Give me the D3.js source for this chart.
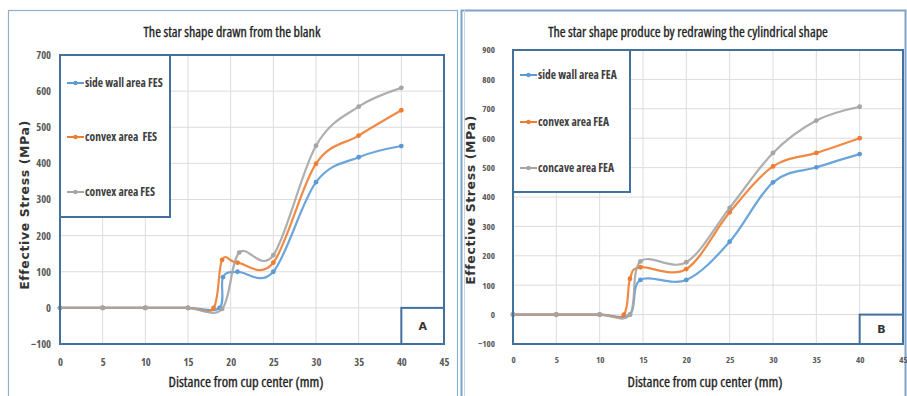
<!DOCTYPE html>
<html>
<head>
<meta charset="utf-8">
<script src="https://cdn.jsdelivr.net/npm/d3@7"></script>
<style>
  body { margin: 0; background: #fff; }
  svg { display: block; }
  text { white-space: pre; }
  .narrow { font-family: "Liberation Sans Narrow", "Open Sans", sans-serif; font-stretch: condensed; }
</style>
</head>
<body>
<svg id="chart" width="907" height="396"></svg>
<script>
// ---- data, panel A (star shape drawn from the blank)
const xTicks = [0, 5, 10, 15, 20, 25, 30, 35, 40, 45];
const aYTicks = [-100, 0, 100, 200, 300, 400, 500, 600, 700];
const aSideWall = [[0,0],[5,0],[10,0],[15,0],[18.7,0],[19.1,85],[20.8,100],[25,100],[30,348],[35,417],[40,448]];
const aConvex   = [[0,0],[5,0],[10,0],[15,0],[18,0],[19,133],[20.8,125],[25,125],[30,399],[35,477],[40,547]];
const aConvex2  = [[0,0],[5,0],[10,0],[15,0],[19,-3],[21,153],[25,146],[30,449],[35,557],[40,609]];
const aNames = ['side wall area FES', 'convex area  FES', 'convex area FES'];

// ---- data, panel B (star shape by redrawing the cylindrical shape)
const bYTicks = [-100, 0, 100, 200, 300, 400, 500, 600, 700, 800, 900];
const bSideWall = [[0,0],[5,0],[10,0],[13.5,0],[14.7,118],[20,118],[25,248],[30,450],[35,501],[40,546]];
const bConvex   = [[0,0],[5,0],[10,0],[12.8,0],[13.5,122],[14.7,161],[20,155],[25,348],[30,504],[35,550],[40,600]];
const bConcave  = [[0,0],[5,0],[10,0],[13.5,0],[14.7,181],[20,178],[25,363],[30,550],[35,660],[40,707]];
const bNames = ['side wall area FEA', 'convex area FEA', 'concave area FEA'];

const colors = ['#5b9bd5', '#ed7d31', '#a5a5a5'];
const frameColor = '#41719c';

const svg = d3.select('#chart');

// outer frames of the two figure panels
svg.append('rect').attr('x', 8.5).attr('y', 10.5).attr('width', 449).attr('height', 400)
  .attr('fill', 'none').attr('stroke', '#8fb0cf').attr('stroke-width', 1.2);
svg.append('rect').attr('x', 461.5).attr('y', 10.5).attr('width', 444).attr('height', 400)
  .attr('fill', 'none').attr('stroke', '#7fa3c6').attr('stroke-width', 2);
svg.append('line').attr('x1', 464.5).attr('x2', 464.5).attr('y1', 10).attr('y2', 396)
  .attr('stroke', '#c5d7e8').attr('stroke-width', 1);

function drawPanel(opt){
  const x = d3.scaleLinear().domain([0, 45]).range([opt.left, opt.right]);
  const y = d3.scaleLinear().domain([opt.yTicks[0], opt.yTicks[opt.yTicks.length-1]]).range([opt.bottom, opt.top]);
  const g = svg.append('g');

  // grid
  g.append('g').selectAll('line').data(xTicks).enter().append('line')
    .attr('x1', d => x(d)).attr('x2', d => x(d)).attr('y1', opt.top).attr('y2', opt.bottom)
    .attr('stroke', '#dcdcdc').attr('stroke-width', 1);
  g.append('g').selectAll('line').data(opt.yTicks).enter().append('line')
    .attr('x1', opt.left).attr('x2', opt.right).attr('y1', d => y(d)).attr('y2', d => y(d))
    .attr('stroke', '#dcdcdc').attr('stroke-width', 1);

  // axes (labels only, the frame draws the lines)
  const xAxis = g.append('g').attr('transform', `translate(0,${opt.bottom})`)
    .call(d3.axisBottom(x).tickValues(xTicks).tickSize(0).tickPadding(opt.xPad));
  const yAxis = g.append('g').attr('transform', `translate(${opt.left},0)`)
    .call(d3.axisLeft(y).tickValues(opt.yTicks).tickSize(0).tickPadding(opt.yPad));
  [xAxis, yAxis].forEach(a => {
    a.select('.domain').remove();
    a.selectAll('text').attr('class', 'narrow').attr('font-size', opt.tickSize)
      .attr('font-weight', 'bold').attr('fill', '#595959');
  });

  // series
  const line = d3.line().x(d => x(d[0])).y(d => y(d[1])).curve(d3.curveCardinal.tension(0));
  opt.series.forEach((s, i) => {
    g.append('path').datum(s).attr('d', line).attr('fill', 'none')
      .attr('stroke', colors[i]).attr('stroke-width', 2.2).attr('opacity', 0.9);
    g.append('g').selectAll('circle').data(s).enter().append('circle')
      .attr('cx', d => x(d[0])).attr('cy', d => y(d[1])).attr('r', 2.4).attr('fill', colors[i]);
  });

  // plot frame
  g.append('rect').attr('x', opt.left).attr('y', opt.top)
    .attr('width', opt.right - opt.left).attr('height', opt.bottom - opt.top)
    .attr('fill', 'none').attr('stroke', frameColor).attr('stroke-width', 2);

  // legend box
  const lg = g.append('g');
  lg.append('rect').attr('x', opt.left).attr('y', opt.top)
    .attr('width', opt.legendW).attr('height', opt.legendH)
    .attr('fill', '#fff').attr('stroke', frameColor).attr('stroke-width', 2);
  opt.names.forEach((n, i) => {
    const ly = opt.legendY[i];
    lg.append('line').attr('x1', opt.left + 7).attr('x2', opt.left + 24).attr('y1', ly).attr('y2', ly)
      .attr('stroke', colors[i]).attr('stroke-width', 2);
    lg.append('circle').attr('cx', opt.left + 15.5).attr('cy', ly).attr('r', 2.2).attr('fill', colors[i]);
    lg.append('text').attr('class', 'narrow').attr('x', opt.left + 25).attr('y', ly).attr('dy', '0.35em')
      .attr('font-size', 11.5).attr('font-weight', 'bold').attr('fill', '#404040').text(n);
  });

  // panel letter box
  const lx = x(40);
  g.append('rect').attr('x', lx).attr('y', y(0)).attr('width', opt.right - lx).attr('height', opt.bottom - y(0))
    .attr('fill', '#fff').attr('stroke', frameColor).attr('stroke-width', 2);
  g.append('text').attr('x', (lx + opt.right) / 2).attr('y', (y(0) + opt.bottom) / 2).attr('dy', '0.35em')
    .attr('text-anchor', 'middle').attr('font-family', 'DejaVu Sans').attr('font-weight', 'bold')
    .attr('font-size', 11).attr('fill', '#333').text(opt.letter);

  // titles
  g.append('text').attr('class', 'narrow').attr('x', opt.titleX).attr('y', 32).attr('dy', '0.35em')
    .attr('text-anchor', 'middle').attr('font-size', 14).attr('fill', '#222')
    .attr('stroke', '#222').attr('stroke-width', 0.3)
    .text(opt.title);
  g.append('text').attr('class', 'narrow').attr('x', opt.xLabelX).attr('y', 382).attr('dy', '0.35em')
    .attr('text-anchor', 'middle').attr('font-size', 14.5).attr('fill', '#222')
    .attr('stroke', '#222').attr('stroke-width', 0.3)
    .text('Distance from cup center (mm)');
  g.append('text').attr('transform', `translate(${opt.yLabelX},${opt.yLabelY}) rotate(-90)`)
    .attr('dy', '0.35em').attr('text-anchor', 'middle').attr('font-family', 'DejaVu Sans')
    .attr('font-size', 12.5).attr('letter-spacing', 0.6).attr('font-weight', 'bold').attr('fill', '#333')
    .text('Effective Stress (MPa)');
}

drawPanel({
  left: 60, right: 444, top: 55, bottom: 344,
  yTicks: aYTicks, series: [aSideWall, aConvex, aConvex2], names: aNames,
  legendW: 110, legendH: 162, legendY: [83, 137, 192],
  xPad: 15, yPad: 9, tickSize: 10.5,
  letter: 'A', title: 'The star shape drawn from the blank', titleX: 232,
  xLabelX: 246, yLabelX: 25, yLabelY: 205
});

drawPanel({
  left: 513, right: 903, top: 50, bottom: 344,
  yTicks: bYTicks, series: [bSideWall, bConvex, bConcave], names: bNames,
  legendW: 117, legendH: 142, legendY: [75, 122, 168],
  xPad: 13, yPad: 18, tickSize: 9,
  letter: 'B', title: 'The star shape produce by redrawing the cylindrical shape', titleX: 688,
  xLabelX: 705, yLabelX: 471, yLabelY: 200
});
</script>
</body>
</html>
